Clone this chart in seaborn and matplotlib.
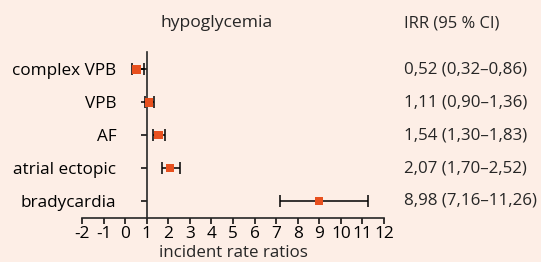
import matplotlib
matplotlib.use('Agg')
import matplotlib.pyplot as plt
import matplotlib.transforms as mtransforms
import seaborn as sns
import pandas as pd

outcomes = ['complex VPB', 'VPB', 'AF', 'atrial ectopic', 'bradycardia']
irr = [0.52, 1.11, 1.54, 2.07, 8.98]
ci_low = [0.32, 0.90, 1.30, 1.70, 7.16]
ci_high = [0.86, 1.36, 1.83, 2.52, 11.26]
irr_text = ['0,52 (0,32–0,86)', '1,11 (0,90–1,36)', '1,54 (1,30–1,83)',
            '2,07 (1,70–2,52)', '8,98 (7,16–11,26)']
xticks = list(range(-2, 13))

bg = '#fdeee6'
orange = '#e8501e'

sns.set_style('ticks')
plt.rcParams['font.family'] = ['Open Sans', 'DejaVu Sans']

df = pd.DataFrame({'outcome': outcomes, 'irr': irr, 'low': ci_low, 'high': ci_high})
df['pos'] = range(len(df))

fig = plt.figure(figsize=(5.41, 2.62), dpi=100, facecolor=bg)
ax = fig.add_axes([0.1516, 0.168, 0.5582, 0.632])
ax.set_facecolor(bg)

ax.errorbar(df['irr'], df['pos'],
            xerr=[df['irr'] - df['low'], df['high'] - df['irr']],
            fmt='none', ecolor='black', elinewidth=1.1, capsize=4, capthick=1.1)
sns.scatterplot(data=df, x='irr', y='pos', marker='s', s=36, color=orange,
                edgecolor='none', ax=ax, zorder=3)

ax.set_xlim(-2, 12)
ax.set_ylim(4.52, -0.52)
ax.set_xticks(xticks)
ax.set_xticklabels([str(t) for t in xticks])
ax.set_yticks(df['pos'])
ax.set_yticklabels(outcomes)
ax.tick_params(axis='y', length=4, width=1.1, pad=18, colors='black', labelsize=12.3)
ax.tick_params(axis='x', length=4, width=1.1, pad=1.5, colors='black', labelsize=12.4)
ax.spines['left'].set_position(('data', 1))
ax.spines['left'].set_linewidth(1.2)
ax.spines['bottom'].set_linewidth(1.2)
ax.spines['top'].set_visible(False)
ax.spines['right'].set_visible(False)
ax.set_xlabel('incident rate ratios', fontsize=12.2, va='top')
ax.xaxis.set_label_coords(0.5, -0.165)
ax.set_ylabel('')

trans = mtransforms.blended_transform_factory(fig.transFigure, ax.transData)
for i, t in enumerate(irr_text):
    ax.text(404 / 541, i, t, transform=trans, fontsize=12.2, va='center', ha='left')
fig.text(217 / 541, 1 - 23 / 262, 'hypoglycemia', fontsize=12.6, ha='center', va='center')
fig.text(404 / 541, 1 - 23 / 262, 'IRR (95 % CI)', fontsize=11.9, ha='left', va='center')

fig.savefig('out.png', dpi=100, facecolor=bg)
